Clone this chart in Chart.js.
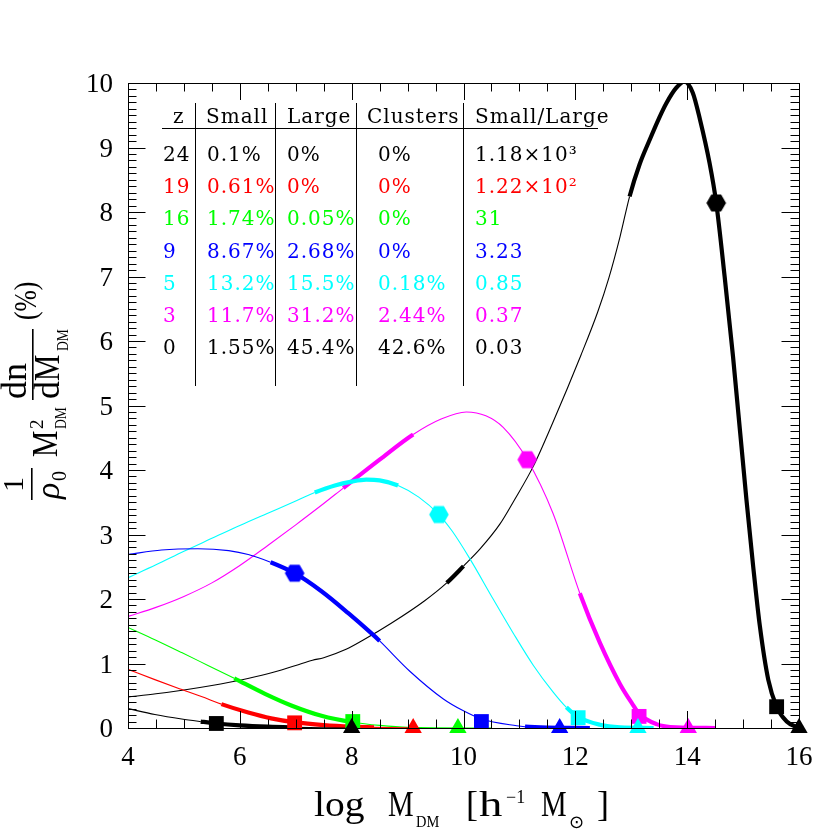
<!DOCTYPE html>
<html><head><meta charset="utf-8">
<script src="https://cdn.jsdelivr.net/npm/chart.js@4.4.0/dist/chart.umd.min.js"></script>
<style>html,body{margin:0;padding:0;background:#fff}canvas{display:block}</style>
</head><body>
<canvas id="c" width="830" height="830"></canvas>
<script>
// ---------------- DATA ----------------
const redshifts = [24, 19, 16, 9, 5, 3, 0];

const x_z24 = [4.0, 4.48, 4.96, 5.3, 5.58, 6.0, 6.5, 7.0, 7.5, 8.0];
const y_z24 = [0.30, 0.21, 0.14, 0.10, 0.07, 0.04, 0.02, 0.01, 0.003, 0.0];
const thick_z24 = [[5.3, 7.0]];

const x_z19 = [4.0, 4.48, 4.95, 5.43, 5.67, 6.15, 6.56, 6.98, 7.5, 8.0, 8.4, 9.2];
const y_z19 = [0.91, 0.75, 0.60, 0.45, 0.37, 0.24, 0.15, 0.09, 0.045, 0.02, 0.01, 0.0];
const thick_z19 = [[5.67, 8.4]];

const x_z16 = [4.0, 4.48, 4.96, 5.43, 5.9, 6.45, 6.92, 7.46, 8.02, 8.5, 9.0, 10.5];
const y_z16 = [1.56, 1.37, 1.17, 0.97, 0.77, 0.53, 0.35, 0.19, 0.09, 0.04, 0.01, 0.0];
const thick_z16 = [[5.9, 8.02]];

const x_z9 = [4.0, 4.6, 5.25, 5.8, 6.15, 6.55, 6.98, 7.46, 7.94, 8.35, 8.5, 9.04, 9.64, 9.99, 10.32, 10.95, 11.1, 11.5, 12.26];
const y_z9 = [2.69, 2.76, 2.78, 2.75, 2.69, 2.57, 2.40, 2.12, 1.78, 1.47, 1.35, 0.88, 0.45, 0.27, 0.14, 0.035, 0.02, 0.005, 0.0];
const thick_z9 = [[6.55, 8.5], [11.1, 12.26]];

const x_z5 = [4.0, 4.5, 5.0, 5.5, 6.0, 6.5, 7.0, 7.34, 7.7, 8.0, 8.26, 8.5, 8.83, 9.2, 9.56, 9.8, 10.11, 10.53, 10.89, 11.25, 11.6, 11.84, 12.05, 12.44, 12.8, 13.4];
const y_z5 = [2.33, 2.53, 2.74, 2.94, 3.14, 3.33, 3.52, 3.65, 3.76, 3.82, 3.85, 3.84, 3.76, 3.58, 3.31, 3.05, 2.63, 2.00, 1.47, 0.97, 0.56, 0.32, 0.17, 0.05, 0.01, 0.0];
const thick_z5 = [[7.34, 8.83], [11.84, 13.4]];

const x_z3 = [4.0, 4.5, 5.0, 5.5, 6.0, 6.5, 7.0, 7.5, 7.85, 8.5, 9.1, 9.6, 10.05, 10.4, 10.71, 11.14, 11.6, 12.08, 12.44, 12.8, 13.03, 13.14, 13.45, 13.8, 14.5];
const y_z3 = [1.73, 1.87, 2.04, 2.25, 2.52, 2.83, 3.15, 3.48, 3.72, 4.16, 4.55, 4.79, 4.90, 4.84, 4.66, 4.16, 3.33, 2.09, 1.32, 0.68, 0.36, 0.22, 0.06, 0.01, 0.0];
const thick_z3 = [[7.85, 9.1], [12.08, 14.5]];

const x_z0 = [4.0, 4.5, 5.0, 5.5, 6.0, 6.5, 7.0, 7.3, 7.5, 7.9, 8.2, 8.7, 9.3, 9.7, 10.0, 10.3, 10.65, 10.9, 11.25, 11.6, 12.1, 12.4, 12.6, 12.8, 12.97, 13.15, 13.33, 13.5, 13.63, 13.8, 13.95, 14.1, 14.23, 14.4, 14.52, 14.67, 14.82, 15.06, 15.18, 15.3, 15.45, 15.6, 15.78, 16.0];
const y_z0 = [0.48, 0.53, 0.59, 0.66, 0.74, 0.84, 0.97, 1.05, 1.09, 1.22, 1.36, 1.62, 1.97, 2.25, 2.51, 2.78, 3.16, 3.52, 4.06, 4.74, 5.78, 6.45, 6.98, 7.62, 8.24, 8.74, 9.12, 9.46, 9.69, 9.92, 10.02, 9.85, 9.43, 8.76, 8.14, 7.0, 5.76, 3.54, 2.51, 1.58, 0.75, 0.33, 0.1, 0.0];
const thick_z0 = [[9.7, 10.0], [12.97, 16.0]];

// markers (one per redshift, order of `redshifts`)
const squareX = [5.58, 6.98, 8.02, 10.32, 12.05, 13.14, 15.6];
const squareY = [0.07, 0.08, 0.10, 0.10, 0.16, 0.18, 0.33];
const triangleX = [8.0, 9.1, 9.9, 11.72, 13.12, 14.02, 16.0];
const triangleY = [0, 0, 0, 0, 0, 0, 0];
const hexZ = [9, 5, 3, 0];
const hexX = [6.98, 9.56, 11.14, 14.52];
const hexY = [2.40, 3.31, 4.16, 8.14];

// table
const tableHeader = ['z', 'Small', 'Large', 'Clusters', 'Small/Large'];
const tableZ = ['24', '19', '16', '9', '5', '3', '0'];
const tableSmall = ['0.1%', '0.61%', '1.74%', '8.67%', '13.2%', '11.7%', '1.55%'];
const tableLarge = ['0%', '0%', '0.05%', '2.68%', '15.5%', '31.2%', '45.4%'];
const tableClusters = ['0%', '0%', '0%', '0%', '0.18%', '2.44%', '42.6%'];
const tableRatio = ['1.18×10³', '1.22×10²', '31', '3.23', '0.85', '0.37', '0.03'];

const xTickLabels = [4, 6, 8, 10, 12, 14, 16];
const yTickLabels = [0, 1, 2, 3, 4, 5, 6, 7, 8, 9, 10];

// ---------------- STYLE ----------------
const colorOf = {24: '#000000', 19: '#ff0000', 16: '#00ff00', 9: '#0000ff', 5: '#00ffff', 3: '#ff00ff', 0: '#000000'};
const curves = {24: [x_z24, y_z24, thick_z24], 19: [x_z19, y_z19, thick_z19], 16: [x_z16, y_z16, thick_z16],
  9: [x_z9, y_z9, thick_z9], 5: [x_z5, y_z5, thick_z5], 3: [x_z3, y_z3, thick_z3], 0: [x_z0, y_z0, thick_z0]};
const THIN = 1.1, THICK = 4.2;

function segWidth(ranges) {
  return ctx => {
    const a = ctx.p0.parsed.x, b = ctx.p1.parsed.x;
    for (const [lo, hi] of ranges) if (a >= lo - 1e-6 && b <= hi + 1e-6) return THICK;
    return THIN;
  };
}
function hexImg(color, r) {
  const c = document.createElement('canvas');
  const s = Math.ceil(2 * r + 2);
  c.width = s; c.height = s;
  const g = c.getContext('2d');
  g.fillStyle = color; g.beginPath();
  for (let i = 0; i < 6; i++) {
    const a = i * Math.PI / 3;
    const x = s / 2 + r * Math.cos(a), y = s / 2 + r * Math.sin(a);
    if (i) g.lineTo(x, y); else g.moveTo(x, y);
  }
  g.closePath(); g.fill();
  return c;
}

const datasets = [];
redshifts.forEach((z, k) => {
  const col = colorOf[z];
  datasets.push({type: 'line', data: [{x: squareX[k], y: squareY[k]}], showLine: false, pointStyle: 'rect',
    pointRadius: 10.5, pointBackgroundColor: col, pointBorderWidth: 0, clip: false, order: 0});
  datasets.push({type: 'line', data: [{x: triangleX[k], y: triangleY[k]}], showLine: false, pointStyle: 'triangle',
    pointRadius: 10, pointBackgroundColor: col, pointBorderWidth: 0, clip: false, order: 0});
});
hexZ.forEach((z, k) => {
  datasets.push({type: 'line', data: [{x: hexX[k], y: hexY[k]}], showLine: false, pointStyle: hexImg(colorOf[z], 9.8),
    pointRadius: 9, pointBorderWidth: 0, clip: false, order: 0});
});
redshifts.forEach(z => {
  const [xs, ys, th] = curves[z];
  datasets.push({type: 'line', data: xs.map((x, i) => ({x, y: ys[i]})), borderColor: colorOf[z],
    borderWidth: THIN, pointRadius: 0, cubicInterpolationMode: 'monotone', fill: false,
    segment: {borderWidth: segWidth(th)}, order: 1});
});

// ---------------- DECORATION PLUGIN ----------------
function txt(ctx, s, x, y, font, sx) {
  ctx.save(); ctx.font = font; ctx.translate(x, y); if (sx) ctx.scale(sx, 1);
  ctx.fillText(s, 0, 0); ctx.restore();
}
const deco = {
  id: 'deco',
  afterDatasetsDraw(chart) {
    const ctx = chart.ctx, a = chart.chartArea, xs = chart.scales.x, ys = chart.scales.y;
    ctx.save();
    ctx.strokeStyle = '#000'; ctx.lineWidth = 1;
    ctx.beginPath();
    for (let k = 0; k <= 24; k++) {
      const v = 4 + k * 0.5;
      const p = Math.round(xs.getPixelForValue(v)) + 0.5;
      const L = (k % 4 === 0) ? 17 : 8.5;
      ctx.moveTo(p, a.bottom); ctx.lineTo(p, a.bottom - L);
      ctx.moveTo(p, a.top); ctx.lineTo(p, a.top + L);
    }
    for (let k = 0; k <= 100; k++) {
      const p = Math.round(ys.getPixelForValue(k / 10)) + 0.5;
      const L = (k % 10 === 0) ? 17.5 : 8.5;
      ctx.moveTo(a.left, p); ctx.lineTo(a.left + L, p);
      ctx.moveTo(a.right, p); ctx.lineTo(a.right - L, p);
    }
    ctx.stroke();
    ctx.strokeRect(a.left + 0.5, a.top + 0.5, a.right - a.left, a.bottom - a.top);

    // tick labels
    ctx.fillStyle = '#000';
    ctx.font = '27px "Liberation Serif"';
    ctx.textAlign = 'center'; ctx.textBaseline = 'alphabetic';
    xTickLabels.forEach(v => ctx.fillText(String(v), xs.getPixelForValue(v), 765));
    ctx.textAlign = 'right';
    yTickLabels.forEach(v => ctx.fillText(String(v), 113, ys.getPixelForValue(v) + 9));

    // x title
    ctx.textAlign = 'left';
    const F = '36px "Liberation Serif"', S = '18px "Liberation Serif"';
    txt(ctx, 'log', 314, 816, F, 1.1);
    txt(ctx, 'M', 388, 816, F, 0.8);
    txt(ctx, 'DM', 416, 827, '17px "Liberation Serif"', 0.85);
    txt(ctx, '[', 466, 816, F);
    txt(ctx, 'h', 479, 816, F, 1.3);
    txt(ctx, '−1', 506, 803, S);
    txt(ctx, 'M', 541, 816, F, 0.8);
    txt(ctx, '⊙', 569, 828, '18px "DejaVu Sans"');
    txt(ctx, ']', 597, 816, F);

    // y title (rotated)
    ctx.save();
    ctx.translate(57, 500); ctx.rotate(-Math.PI / 2);
    txt(ctx, '1', 8, -34, '30px "Liberation Serif"');
    ctx.fillRect(0, -26, 32, 1.6);
    txt(ctx, 'ρ', 1, 2, 'italic 34px "Liberation Serif"');
    txt(ctx, '0', 19, 9, '20px "Liberation Serif"');
    txt(ctx, 'M', 43, 0, F, 0.82);
    txt(ctx, '2', 71, -14, '19px "Liberation Serif"');
    txt(ctx, 'DM', 71, 9, '16px "Liberation Serif"', 0.85);
    txt(ctx, 'dn', 101, -31, '36px "Liberation Serif"');
    ctx.fillRect(100, -25, 71, 1.6);
    txt(ctx, 'd', 101, 2, '36px "Liberation Serif"');
    txt(ctx, 'M', 119, 2, '36px "Liberation Serif"', 0.82);
    txt(ctx, 'DM', 149, 11, '16px "Liberation Serif"', 0.85);
    txt(ctx, '(%)', 180, -21, '32px "Liberation Serif"', 0.8);
    ctx.restore();

    // table
    const tf = '20px "DejaVu Serif"';
    ctx.font = tf;
    if ('letterSpacing' in ctx) ctx.letterSpacing = '1px';
    const hx = [173, 206, 287, 367, 475];
    tableHeader.forEach((h, i) => txt(ctx, h, hx[i], 123, tf));
    const cx = [163, 207, 287, 378, 475];
    const rowColors = redshifts.map(z => colorOf[z]);
    tableZ.forEach((_, r) => {
      const y = 161 + r * 32.2;
      ctx.fillStyle = rowColors[r];
      [tableZ, tableSmall, tableLarge, tableClusters, tableRatio].forEach((col, c) => txt(ctx, col[r], cx[c], y, tf));
    });
    if ('letterSpacing' in ctx) ctx.letterSpacing = '0px';
    ctx.strokeStyle = '#000'; ctx.lineWidth = 1;
    ctx.beginPath();
    ctx.moveTo(162, 128.5); ctx.lineTo(598, 128.5);
    [195.5, 275.5, 356.5, 463.5].forEach(x => { ctx.moveTo(x, 103); ctx.lineTo(x, 386); });
    ctx.stroke();
    ctx.restore();
  }
};

new Chart(document.getElementById('c'), {
  type: 'line',
  data: {datasets},
  options: {
    responsive: false, animation: false, devicePixelRatio: 1, events: [],
    layout: {padding: {left: 128, right: 31, top: 83, bottom: 102}},
    plugins: {legend: {display: false}, tooltip: {enabled: false}},
    scales: {
      x: {type: 'linear', min: 4, max: 16, display: false},
      y: {type: 'linear', min: 0, max: 10, display: false}
    }
  },
  plugins: [deco]
});
</script>
</body></html>
